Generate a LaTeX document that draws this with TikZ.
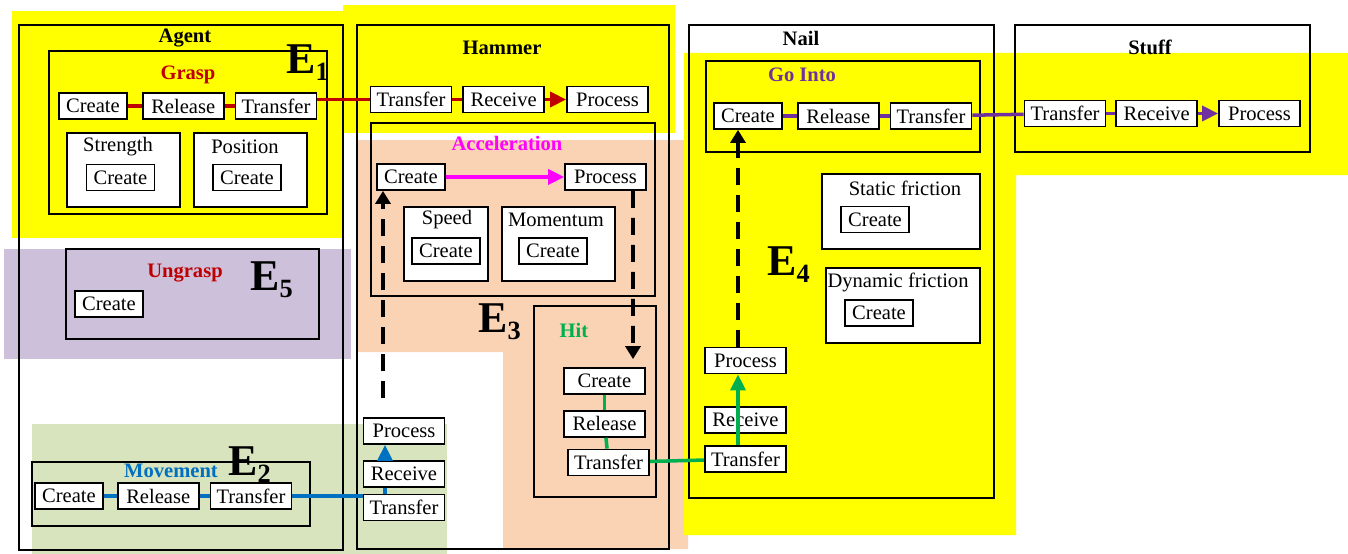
\documentclass[tikz,border=0pt]{standalone}
\usepackage{fontspec}
\setmainfont{Liberation Serif}
\usepackage{tikz}
\usetikzlibrary{positioning, arrows.meta}
\definecolor{hlyellow}{RGB}{255,255,0}
\definecolor{hlpurple}{RGB}{204,192,218}
\definecolor{hlgreen}{RGB}{215,228,189}
\definecolor{hlpeach}{RGB}{250,211,180}
\definecolor{darkred}{RGB}{192,0,0}
\definecolor{okgreen}{RGB}{0,176,80}
\definecolor{okblue}{RGB}{0,112,192}
\definecolor{okpurple}{RGB}{112,48,160}
\definecolor{okmagenta}{RGB}{255,0,255}
\newcommand{\Ent}[1]{\textbf{E}\raisebox{-4pt}{\fontsize{15}{15}\selectfont\textbf{#1}}}
\tikzset{
    act/.style={draw, fill=white, line width=1pt, inner sep=0pt, minimum width=1.62cm, minimum height=0.52cm, font=\fontsize{11.7}{13}\selectfont},
    cr/.style={act, minimum width=1.36cm},
    frame/.style={draw, line width=1pt},
    title/.style={font=\fontsize{11.7}{13}\selectfont\bfseries},
    lbl/.style={font=\fontsize{11.7}{13}\selectfont},
    ename/.style={font=\fontsize{25}{25}\selectfont, inner sep=0pt, anchor=base west},
    link/.style={line width=2pt},
    tip/.style={-{Triangle[length=0.32cm,width=0.3cm]}},
    dasharrow/.style={line width=2.2pt, dash pattern=on 0.34cm off 0.2cm, -{Triangle[length=0.26cm,width=0.3cm]}},
}
\begin{document}
\begin{tikzpicture}[x=0.02cm, y=-0.02cm]
    \useasboundingbox (0,0) rectangle (1348,554);

    \fill[hlyellow] (12,11) rectangle (343,238);
    \fill[hlyellow] (343,5) rectangle (675,133);
    \fill[hlpurple] (4,249) rectangle (351,359);
    \fill[hlgreen] (32,424) rectangle (447,554);
    \fill[hlpeach] (357,140) -- (688,140) -- (688,549) -- (503,549) -- (503,352) -- (357,352) -- cycle;
    \fill[hlyellow] (684,53) -- (1348,53) -- (1348,175) -- (1016,175) -- (1016,535) -- (684,535) -- cycle;

    \draw[frame] (19,25) rectangle (343,550);
    \draw[frame] (49,51) rectangle (327,214);
    \draw[frame, fill=white] (67,133) rectangle (180,207);
    \draw[frame, fill=white] (194,133) rectangle (307,207);
    \draw[frame] (66,249) rectangle (319,339);
    \draw[frame] (32,462) rectangle (310,526);
    \draw[frame] (357,25) rectangle (669,549);
    \draw[frame] (371,123) rectangle (655,296);
    \draw[frame, fill=white] (404,207) rectangle (488,281);
    \draw[frame, fill=white] (502,207) rectangle (615,281);
    \draw[frame] (534,306) rectangle (656,497);
    \draw[frame] (689,25) rectangle (994,498);
    \draw[frame] (706,61) rectangle (980,152);
    \draw[frame, fill=white] (822,174) rectangle (980,249);
    \draw[frame, fill=white] (826,268) rectangle (980,343);
    \draw[frame] (1015,25) rectangle (1310,152);

    \node[title] (agent) at (185,38) {Agent};
    \node[title, text=darkred] (grasp) at (188,75) {Grasp};
    \node[lbl] (strength) at (118,147) {Strength};
    \node[lbl] (position) at (245,147) {Position};
    \node[title, text=darkred] (ungrasp) at (185,273) {Ungrasp};
    \node[title, text=okblue] (movement) at (171,471) {Movement};
    \node[title] (hammer) at (502,48) {Hammer};
    \node[title, text=okmagenta] (accel) at (507,143) {Acceleration};
    \node[lbl] (speed) at (447,220) {Speed};
    \node[lbl] (momentum) at (556,220) {Momentum};
    \node[title, text=okgreen] (hit) at (574,330) {Hit};
    \node[title] (nail) at (801,38) {Nail};
    \node[title, text=okpurple] (gointo) at (802,75) {Go Into};
    \node[lbl] (static) at (905,188) {Static friction};
    \node[lbl] (dynamic) at (898,282) {Dynamic friction};
    \node[title] (stuff) at (1150,47) {Stuff};

    \node[ename] (e1) at (286,73) {\Ent{1}};
    \node[ename] (e2) at (228,475) {\Ent{2}};
    \node[ename] (e3) at (478,332) {\Ent{3}};
    \node[ename] (e4) at (767,275) {\Ent{4}};
    \node[ename] (e5) at (250,290) {\Ent{5}};

    \node[cr] (gcreate) at (93,106) {Create};
    \node[act, right=0.28cm of gcreate] (grelease) {Release};
    \node[act, right=0.2cm of grelease] (gtransfer) {Transfer};
    \node[cr] (stcreate) at (120.5,177.5) {Create};
    \node[cr] (pocreate) at (247,177.5) {Create};
    \node[cr] (ucreate) at (109,304) {Create};

    \node[cr] (mcreate) at (69,496) {Create};
    \node[act, right=0.26cm of mcreate] (mrelease) {Release};
    \node[act, right=0.2cm of mrelease] (mtransfer) {Transfer};

    \node[act] (htransfer) at (411,99.5) {Transfer};
    \node[act, right=0.2cm of htransfer] (hreceive) {Receive};
    \node[act, right=0.42cm of hreceive] (hprocess) {Process};
    \node[cr] (acreate) at (411,177) {Create};
    \node[act] (aprocess) at (605.5,177) {Process};
    \node[cr] (spcreate) at (446,251) {Create};
    \node[cr] (mocreate) at (553,251) {Create};

    \node[act] (hicreate) at (604.5,381) {Create};
    \node[act, below=0.3cm of hicreate] (hirelease) {Release};
    \node[act, below=0.22cm of hirelease, xshift=0.08cm] (hitransfer) {Transfer};

    \node[act] (hbtransfer) at (404,507.5) {Transfer};
    \node[act, above=0.12cm of hbtransfer] (hbreceive) {Receive};
    \node[act, above=0.3cm of hbreceive] (hbprocess) {Process};

    \node[cr] (ncreate) at (748,116) {Create};
    \node[act, right=0.28cm of ncreate] (nrelease) {Release};
    \node[act, right=0.2cm of nrelease] (ntransfer) {Transfer};
    \node[cr] (sfcreate) at (875,219.5) {Create};
    \node[cr] (dfcreate) at (879,313) {Create};

    \node[act] (ntransferb) at (745.5,459) {Transfer};
    \node[act, above=0.22cm of ntransferb] (nreceive) {Receive};
    \node[act, above=0.64cm of nreceive] (nprocess) {Process};

    \node[act] (stransfer) at (1065,113.5) {Transfer};
    \node[act, right=0.18cm of stransfer] (sreceive) {Receive};
    \node[act, right=0.4cm of sreceive] (sprocess) {Process};

    \draw[link, darkred] (gcreate) -- (grelease);
    \draw[link, darkred] (grelease) -- (gtransfer);
    \draw[link, darkred] (gtransfer.east |- htransfer) -- (htransfer);
    \draw[link, darkred] (htransfer) -- (hreceive);
    \draw[link, darkred, tip] (hreceive) -- (hprocess);

    \draw[link, okmagenta, tip] (acreate) -- (aprocess);

    \draw[link, okblue] (mcreate) -- (mrelease);
    \draw[link, okblue] (mrelease) -- (mtransfer);
    \draw[link, okblue] (mtransfer.east) -- (mtransfer.east -| hbtransfer.west);
    \draw[link, okblue] ([xshift=-0.38cm]hbtransfer.north) -- ([xshift=-0.38cm]hbreceive.south);
    \draw[link, okblue, tip] ([xshift=-0.38cm]hbreceive.north) -- ([xshift=-0.38cm]hbprocess.south);

    \draw[link, okgreen] (hicreate) -- (hirelease);
    \draw[link, okgreen] (hirelease) -- (hitransfer);
    \draw[link, okgreen] (hitransfer) -- (ntransferb);
    \draw[link, okgreen, tip] ([xshift=-0.15cm]ntransferb.north) -- ([xshift=-0.15cm]nprocess.south);

    \draw[link, okpurple] (ncreate) -- (nrelease);
    \draw[link, okpurple] (nrelease) -- (ntransfer);
    \draw[link, okpurple] (ntransfer) -- (stransfer);
    \draw[link, okpurple] (stransfer) -- (sreceive);
    \draw[link, okpurple, tip] (sreceive) -- (sprocess);

    \coordinate (accfrom) at (383,398);
    \draw[dasharrow] (accfrom) -- (accfrom |- acreate.south);
    \draw[dasharrow] ([xshift=0.55cm]aprocess.south) -- ([xshift=0.57cm, yshift=0.16cm]hicreate.north);
    \coordinate (nfrom) at ([xshift=-0.15cm]nprocess.north);
    \draw[dasharrow] (nfrom) -- (nfrom |- ncreate.south);
\end{tikzpicture}
\end{document}
